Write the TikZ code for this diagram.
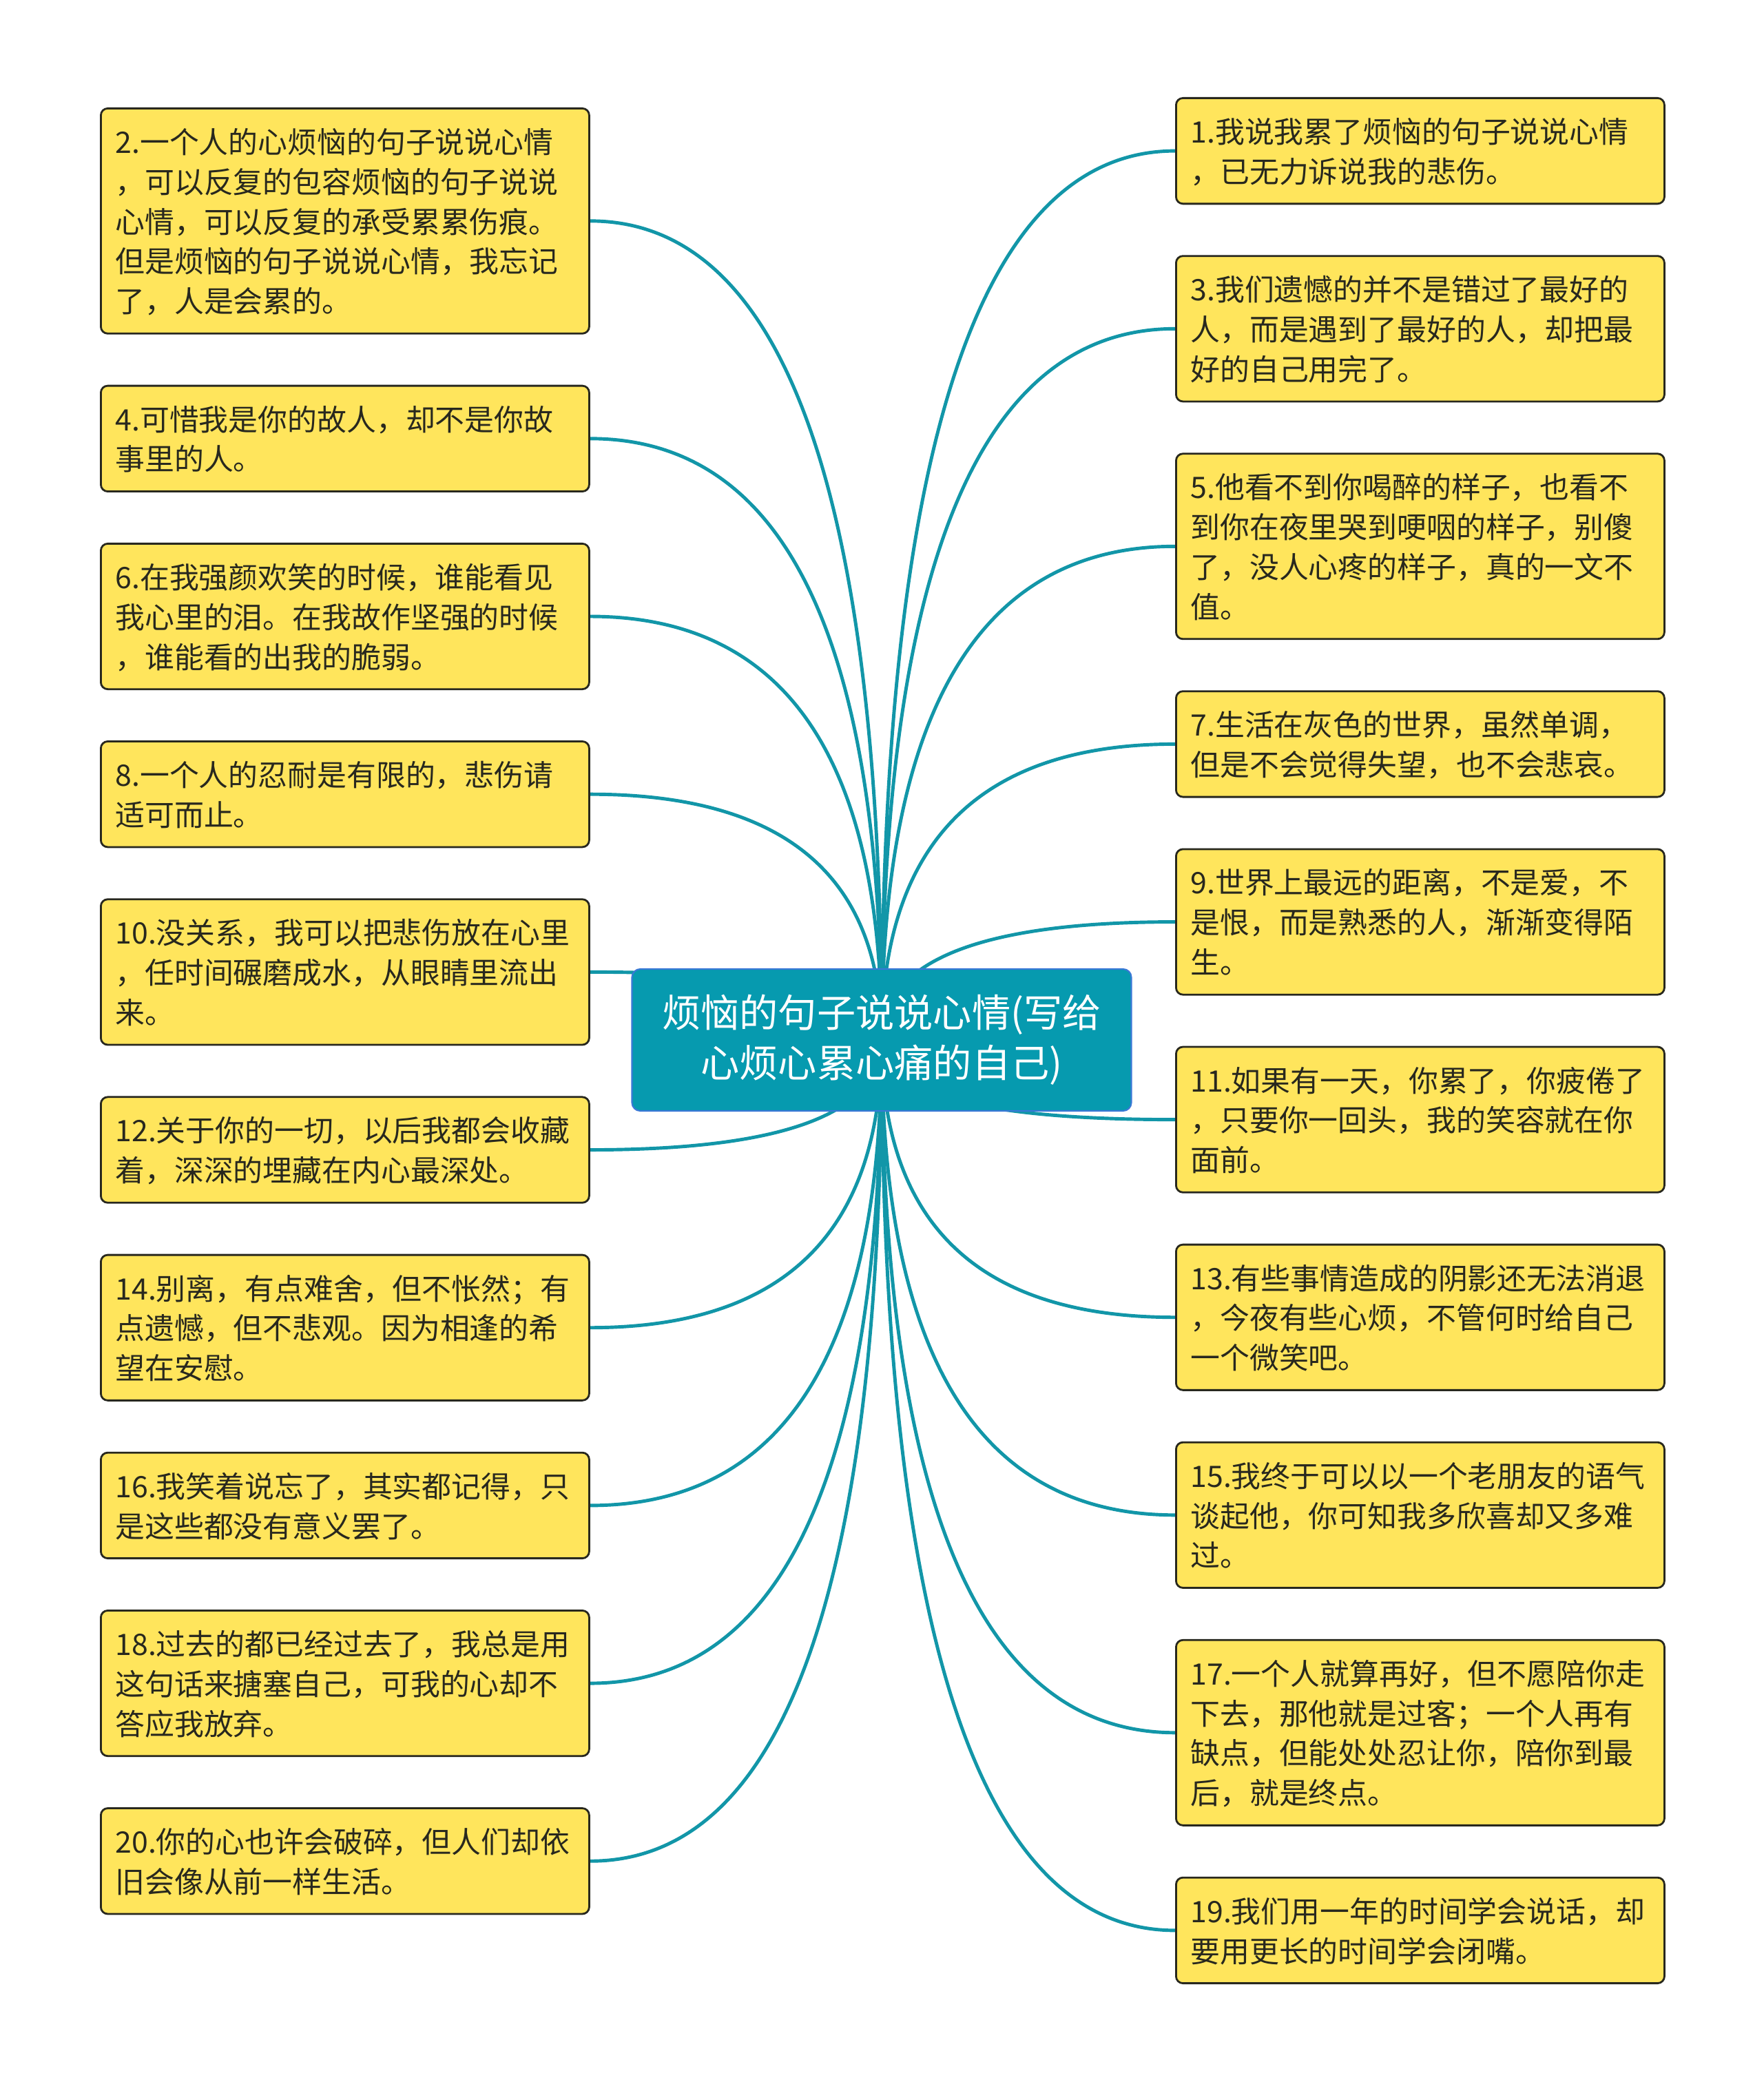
\documentclass[tikz,border=0pt]{standalone}
\usepackage{fontspec}
\newfontfamily\cjk{Noto Sans CJK SC}
\usetikzlibrary{positioning,calc,backgrounds}
\definecolor{leafyellow}{RGB}{255,229,92}
\definecolor{rootteal}{RGB}{6,154,175}
\definecolor{rootedge}{RGB}{58,120,214}
\definecolor{branchteal}{RGB}{18,150,168}
\definecolor{inkdark}{RGB}{40,40,30}
\newcommand{\leaffont}{\cjk\fontsize{12.2pt}{16.45pt}\selectfont}
\newcommand{\rootfont}{\cjk\fontsize{16pt}{20.7pt}\selectfont}

\begin{document}
\begin{tikzpicture}[
	leaf/.style={rectangle, rounded corners=0.1cm, draw=inkdark, line width=0.8pt, fill=leafyellow, text=inkdark, font=\leaffont, text width=6.67cm, inner xsep=0.21cm, inner ysep=0.19cm, align=left, execute at begin node={\rule{0pt}{13.1pt}}, execute at end node={\rule[-3.3pt]{0pt}{0pt}}},
	branch/.style={branchteal, line width=1.4pt},
]
	\useasboundingbox (0,0) rectangle (25.6,-30.23);

	\node[rectangle, rounded corners=0.12cm, fill=rootteal, draw=rootedge, line width=0.6pt, text=white, font=\rootfont, minimum width=7.25cm, minimum height=2.06cm, align=center] (root) at (12.8,-15.1) {烦恼的句子说说心情(写给\\心烦心累心痛的自己)};

	% left column
	\node[leaf, anchor=north west] (q2) at (1.45,-1.56) {2.一个人的心烦恼的句子说说心情\\，可以反复的包容烦恼的句子说说\\心情，可以反复的承受累累伤痕。\\但是烦恼的句子说说心情，我忘记\\了，人是会累的。};
	\node[leaf, below=0.73cm of q2] (q4) {4.可惜我是你的故人，却不是你故\\事里的人。};
	\node[leaf, below=0.73cm of q4] (q6) {6.在我强颜欢笑的时候，谁能看见\\我心里的泪。在我故作坚强的时候\\，谁能看的出我的脆弱。};
	\node[leaf, below=0.73cm of q6] (q8) {8.一个人的忍耐是有限的，悲伤请\\适可而止。};
	\node[leaf, below=0.73cm of q8] (q10) {10.没关系，我可以把悲伤放在心里\\，任时间碾磨成水，从眼睛里流出\\来。};
	\node[leaf, below=0.73cm of q10] (q12) {12.关于你的一切，以后我都会收藏\\着，深深的埋藏在内心最深处。};
	\node[leaf, below=0.73cm of q12] (q14) {14.别离，有点难舍，但不怅然；有\\点遗憾，但不悲观。因为相逢的希\\望在安慰。};
	\node[leaf, below=0.73cm of q14] (q16) {16.我笑着说忘了，其实都记得，只\\是这些都没有意义罢了。};
	\node[leaf, below=0.73cm of q16] (q18) {18.过去的都已经过去了，我总是用\\这句话来搪塞自己，可我的心却不\\答应我放弃。};
	\node[leaf, below=0.73cm of q18] (q20) {20.你的心也许会破碎，但人们却依\\旧会像从前一样生活。};

	% right column
	\node[leaf, anchor=north west] (q1) at (17.06,-1.41) {1.我说我累了烦恼的句子说说心情\\，已无力诉说我的悲伤。};
	\node[leaf, below=0.73cm of q1] (q3) {3.我们遗憾的并不是错过了最好的\\人，而是遇到了最好的人，却把最\\好的自己用完了。};
	\node[leaf, below=0.73cm of q3] (q5) {5.他看不到你喝醉的样子，也看不\\到你在夜里哭到哽咽的样子，别傻\\了，没人心疼的样子，真的一文不\\值。};
	\node[leaf, below=0.73cm of q5] (q7) {7.生活在灰色的世界，虽然单调，\\但是不会觉得失望，也不会悲哀。};
	\node[leaf, below=0.73cm of q7] (q9) {9.世界上最远的距离，不是爱，不\\是恨，而是熟悉的人，渐渐变得陌\\生。};
	\node[leaf, below=0.73cm of q9] (q11) {11.如果有一天，你累了，你疲倦了\\，只要你一回头，我的笑容就在你\\面前。};
	\node[leaf, below=0.73cm of q11] (q13) {13.有些事情造成的阴影还无法消退\\，今夜有些心烦，不管何时给自己\\一个微笑吧。};
	\node[leaf, below=0.73cm of q13] (q15) {15.我终于可以以一个老朋友的语气\\谈起他，你可知我多欣喜却又多难\\过。};
	\node[leaf, below=0.73cm of q15] (q17) {17.一个人就算再好，但不愿陪你走\\下去，那他就是过客；一个人再有\\缺点，但能处处忍让你，陪你到最\\后，就是终点。};
	\node[leaf, below=0.73cm of q17] (q19) {19.我们用一年的时间学会说话，却\\要用更长的时间学会闭嘴。};

	% branches, behind the boxes
	\begin{scope}[on background layer]
		\foreach \n in {2,4,...,20}
			\draw[branch] (root.center) .. controls ($(root.center)!0.667!(root.center |- q\n.east)$) and ($(q\n.east)!0.667!(root.center |- q\n.east)$) .. (q\n.east);
		\foreach \n in {1,3,...,19}
			\draw[branch] (root.center) .. controls ($(root.center)!0.667!(root.center |- q\n.west)$) and ($(q\n.west)!0.667!(root.center |- q\n.west)$) .. (q\n.west);
	\end{scope}
\end{tikzpicture}
\end{document}
